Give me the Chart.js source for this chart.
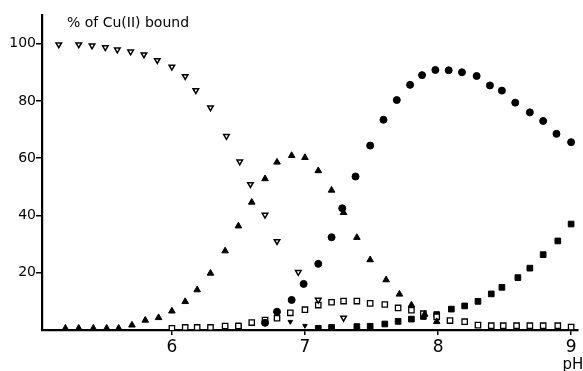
<!DOCTYPE html>
<html>
<head>
<meta charset="utf-8">
<script src="https://cdn.jsdelivr.net/npm/chart.js@4"></script>
<style>
  html, body { margin: 0; padding: 0; background: #fff; }
  #wrap { width: 583px; height: 371px; }
</style>
</head>
<body>
<div id="wrap"><canvas id="c" width="583" height="371"></canvas></div>
<script>
// ---- data ----
const xTickValues = [6, 7, 8, 9];
const yTickValues = [20, 40, 60, 80, 100];
const yAxisTitle = "% of Cu(II) bound";
const xAxisTitle = "pH";

// open down-triangles
const phOpenDown = [5.15,5.30,5.40,5.50,5.59,5.69,5.79,5.89,6.00,6.10,6.18,6.29,6.41,6.51,6.59,6.70,6.79,6.95,7.10,7.29];
const valOpenDown = [99.7,99.7,99.3,98.7,97.9,97.2,96.2,94.2,91.9,88.6,83.7,77.7,67.7,58.8,50.9,40.2,31.0,20.2,10.5,4.2];

// small filled down-triangles
const phFilledDown = [6.89, 7.00];
const valFilledDown = [2.9, 1.5];

// filled up-triangles
const phFilledUp = [5.20,5.30,5.41,5.51,5.60,5.70,5.80,5.90,6.00,6.10,6.19,6.29,6.40,6.50,6.60,6.70,6.79,6.90,7.00,7.10,7.20,7.29,7.39,7.49,7.61,7.71,7.80,7.90,7.99];
const valFilledUp = [0.6,0.6,0.6,0.6,0.6,1.7,3.4,4.3,6.6,9.9,14.0,19.8,27.6,36.3,44.6,52.8,58.6,60.9,60.2,55.6,48.8,41.0,32.3,24.5,17.5,12.5,8.7,5.5,2.9];

// filled circles
const phCircle = [6.70,6.79,6.90,6.99,7.10,7.20,7.28,7.38,7.49,7.59,7.69,7.79,7.88,7.98,8.08,8.18,8.29,8.39,8.48,8.58,8.69,8.79,8.89,9.00];
const valCircle = [2.5,6.4,10.5,16.1,23.1,32.4,42.5,53.6,64.4,73.4,80.3,85.6,89.0,90.8,90.7,90.0,88.7,85.4,83.6,79.4,76.0,73.0,68.5,65.6];

// open squares
const phOpenSq = [6.00,6.10,6.19,6.29,6.40,6.50,6.60,6.70,6.79,6.89,7.00,7.10,7.20,7.29,7.39,7.49,7.60,7.70,7.80,7.89,7.99,8.09,8.20,8.30,8.40,8.49,8.59,8.69,8.79,8.90,9.00];
const valOpenSq = [0.6,0.9,0.9,0.9,1.4,1.4,2.6,3.5,4.1,6.0,7.1,8.7,9.7,10.1,10.1,9.3,8.9,7.7,6.9,5.7,4.6,3.3,2.9,1.7,1.5,1.5,1.5,1.5,1.5,1.5,1.0];

// filled squares
const phFilledSq = [6.50,7.10,7.20,7.39,7.49,7.60,7.70,7.80,7.89,7.99,8.10,8.20,8.30,8.40,8.48,8.60,8.69,8.79,8.90,9.00];
const valFilledSq = [1.4,0.6,0.9,1.2,1.3,2.1,3.0,3.8,4.7,5.4,7.3,8.4,10.0,12.6,14.9,18.3,21.6,26.3,31.1,37.0];

function pts(xs, ys) { return xs.map((x, i) => ({ x: x, y: ys[i] })); }

const FONT = "'DejaVu Sans', sans-serif";

const textPlugin = {
  id: 'texts',
  afterDraw(chart) {
    const ctx = chart.ctx;
    ctx.save();
    ctx.fillStyle = '#000';
    ctx.font = "14px " + FONT;
    ctx.textAlign = 'left';
    ctx.textBaseline = 'middle';
    ctx.fillText(yAxisTitle, 67, 23.5);
    ctx.font = "15px " + FONT;
    ctx.textAlign = 'center';
    ctx.fillText(xAxisTitle, 573, 365);
    ctx.restore();
  }
};

new Chart(document.getElementById('c'), {
  type: 'scatter',
  data: {
    datasets: [
      { data: pts(phOpenDown, valOpenDown), pointStyle: 'triangle', rotation: 180, radius: 3.2,
        backgroundColor: '#fff', borderColor: '#000', borderWidth: 1.5 },
      { data: pts(phFilledDown, valFilledDown), pointStyle: 'triangle', rotation: 180, radius: 2.6,
        backgroundColor: '#000', borderColor: '#000', borderWidth: 1 },
      { data: pts(phFilledUp, valFilledUp), pointStyle: 'triangle', radius: 3.8,
        backgroundColor: '#000', borderColor: '#000', borderWidth: 1 },
      { data: pts(phCircle, valCircle), pointStyle: 'circle', radius: 3.5,
        backgroundColor: '#000', borderColor: '#000', borderWidth: 1 },
      { data: pts(phOpenSq, valOpenSq), pointStyle: 'rect', radius: 3.8,
        backgroundColor: '#fff', borderColor: '#000', borderWidth: 1.3 },
      { data: pts(phFilledSq, valFilledSq), pointStyle: 'rect', radius: 4.0,
        backgroundColor: '#000', borderColor: '#000', borderWidth: 1 }
    ]
  },
  options: {
    responsive: false,
    animation: false,
    devicePixelRatio: 1,
    layout: { padding: { top: 15, right: 0, left: 0, bottom: 0 } },
    plugins: { legend: { display: false }, tooltip: { enabled: false } },
    elements: { point: { hoverRadius: 4 } },
    scales: {
      x: {
        type: 'linear',
        min: 5.024, max: 9.048,
        afterBuildTicks: (s) => { s.ticks = xTickValues.map(v => ({ value: v })); },
        afterFit: (s) => { s.height = 41; },
        ticks: { color: '#000', font: { family: FONT, size: 17 }, padding: 2, maxRotation: 0,
                 callback: (v) => String(v) },
        grid: { display: true, drawOnChartArea: false, drawTicks: true, tickLength: 5,
                color: '#000', lineWidth: 1.5 },
        border: { display: true, color: '#000', width: 2.2 }
      },
      y: {
        type: 'linear',
        min: 0, max: 110,
        afterBuildTicks: (s) => { s.ticks = yTickValues.map(v => ({ value: v })); },
        afterFit: (s) => { s.width = 42; },
        ticks: { color: '#000', font: { family: FONT, size: 14 }, padding: 0,
                 callback: (v) => String(v) },
        grid: { display: true, drawOnChartArea: false, drawTicks: true, tickLength: 6,
                color: '#000', lineWidth: 1.5 },
        border: { display: true, color: '#000', width: 2.2 }
      }
    }
  },
  plugins: [textPlugin]
});
</script>
</body>
</html>
